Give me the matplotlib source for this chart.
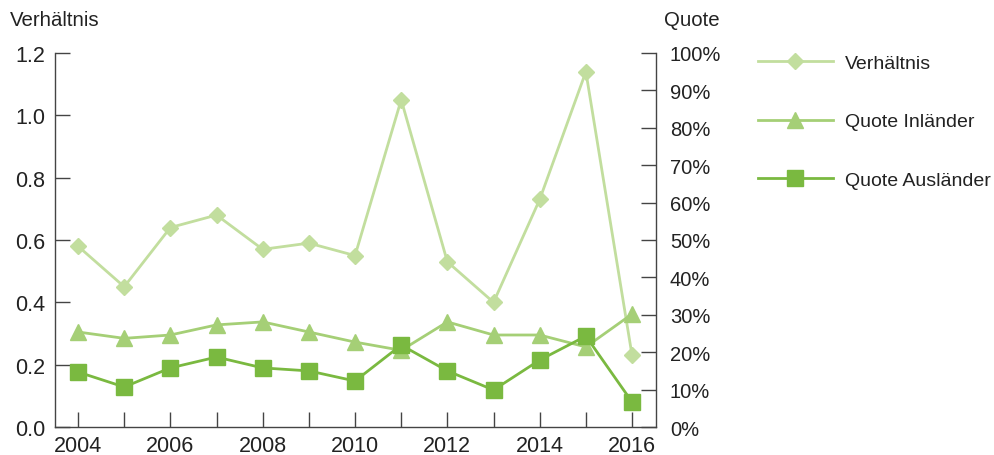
import matplotlib
matplotlib.use("Agg")
import matplotlib.pyplot as plt
from matplotlib.ticker import FuncFormatter, MultipleLocator

years = [2004, 2005, 2006, 2007, 2008, 2009, 2010, 2011, 2012, 2013, 2014, 2015, 2016]
verhaeltnis = [0.58, 0.45, 0.64, 0.68, 0.57, 0.59, 0.55, 1.05, 0.53, 0.40, 0.73, 1.14, 0.23]
quote_inland = [0.254, 0.237, 0.246, 0.273, 0.281, 0.254, 0.227, 0.205, 0.281, 0.246, 0.246, 0.214, 0.302]
quote_ausland = [0.147, 0.107, 0.158, 0.187, 0.158, 0.150, 0.123, 0.219, 0.150, 0.099, 0.179, 0.243, 0.067]
labels = ["Verhältnis", "Quote Inländer", "Quote Ausländer"]
year_labels = ["2004", "2006", "2008", "2010", "2012", "2014", "2016"]

c_v = "#c2de9e"
c_i = "#a5cf76"
c_a = "#7ab940"
txt = "#222222"
spine_c = "#444444"

plt.rcParams["font.family"] = ["Liberation Sans", "DejaVu Sans"]
plt.rcParams["font.size"] = 15

fig = plt.figure(figsize=(9.94, 4.56), dpi=100)
ax = fig.add_axes([0.0553, 0.0614, 0.6047, 0.8202])
ax2 = ax.twinx()

l1, = ax.plot(years, verhaeltnis, color=c_v, lw=2.0, marker="D", ms=8.5, label=labels[0])
l2, = ax2.plot(years, quote_inland, color=c_i, lw=2.0, marker="^", ms=11, label=labels[1])
l3, = ax2.plot(years, quote_ausland, color=c_a, lw=2.0, marker="s", ms=11, label=labels[2])

ax.set_xlim(2003.5, 2016.52)
ax.set_ylim(0, 1.2)
ax2.set_ylim(0, 1.0)
ax.yaxis.set_major_locator(MultipleLocator(0.2))
ax.yaxis.set_major_formatter(FuncFormatter(lambda v, p: f"{v:.1f}"))
ax2.yaxis.set_major_locator(MultipleLocator(0.1))
ax2.yaxis.set_major_formatter(FuncFormatter(lambda v, p: f"{round(v*100):d}%"))
ax.set_xticks(years)
ax.set_xticklabels([str(y) if str(y) in year_labels else "" for y in years])

for a in (ax, ax2):
    a.spines["top"].set_visible(False)
    for s in ("left", "right", "bottom"):
        a.spines[s].set_color(spine_c)
        a.spines[s].set_linewidth(1.0)
    a.tick_params(direction="in", length=10.5, width=1.0, color=spine_c, labelcolor=txt, labelsize=15.5)
ax.tick_params(axis="y", pad=7)
ax.tick_params(axis="x", pad=6)
ax2.tick_params(axis="y", pad=10, labelsize=14.5)
ax.spines["right"].set_visible(False)
ax2.spines["left"].set_visible(False)
ax2.spines["bottom"].set_visible(False)

fig.text(0.010, 0.955, "Verhältnis", ha="left", va="center", fontsize=14.7, color=txt)
fig.text(0.668, 0.955, "Quote", ha="left", va="center", fontsize=14.7, color=txt)

fig.legend(handles=[l1, l2, l3], labels=labels, loc="upper left",
           bbox_to_anchor=(0.745, 0.917), frameon=False, fontsize=14,
           handlelength=3.85, handletextpad=0.6, labelspacing=2.1, labelcolor=txt)

fig.savefig("out.png", dpi=100)
